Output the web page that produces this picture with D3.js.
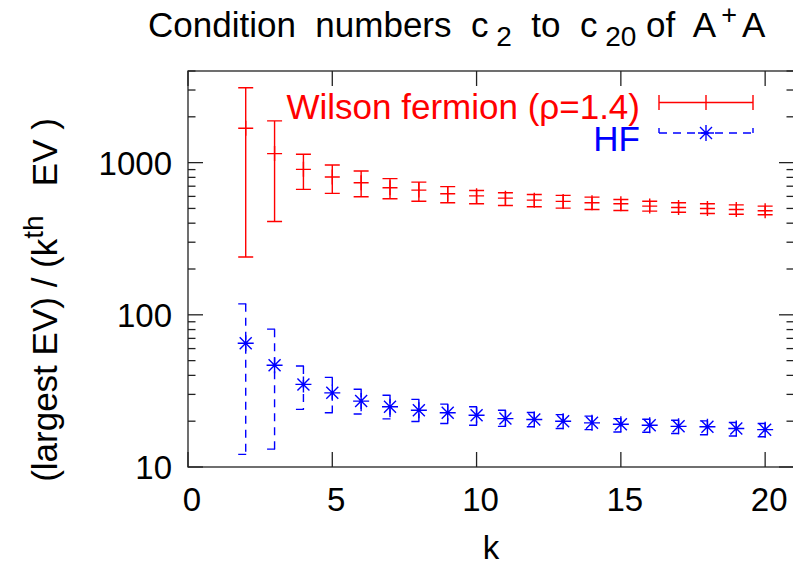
<!DOCTYPE html>
<html><head><meta charset="utf-8">
<script src="https://cdn.jsdelivr.net/npm/d3@7"></script>
<style>
body{margin:0;background:#fff;}
svg text{font-family:"Liberation Sans",Arial,sans-serif;white-space:pre;}
</style></head>
<body><svg id="c" width="793" height="570"></svg>
<script>
const ks = [2,3,4,5,6,7,8,9,10,11,12,13,14,15,16,17,18,19,20];
const wilsonVal = [1683,1146,903,804,738,684,660,625,605,584,567,556,545,537,518,507,500,492,483];
const wilsonHi  = [3103,1880,1134,964,881,785,745,695,656,634,618,609,593,573,558,545,537,528,518];
const wilsonLo  = [240,410,667,628,597,579,558,545,537,523,513,502,492,485,480,472,463,458,454];
const hfVal = [65,46.6,34.9,30.7,27.1,24.9,23.6,22.7,21.9,20.8,20.5,20.0,19.5,19.1,18.8,18.5,18.4,17.9,17.6];
const hfHi  = [118,80.5,46.1,38.8,32.4,29.6,27.8,25.9,24.9,23.6,22.8,22.1,21.6,20.8,20.6,20.3,20.1,19.6,19.3];
const hfLo  = [12.1,13.1,23.9,22.7,22.3,20.7,19.9,19.3,18.8,18.5,18.4,17.9,17.6,17.0,16.9,16.6,16.3,16.0,15.8];
const xTicks = [0,5,10,15,20];
const yTicks = [10,100,1000];
const legendLabels = ["Wilson fermion (\u03c1=1.4)","HF"];

const svg = d3.select("#c");
const L=188,R=794,T=71,B=467;
const x = d3.scaleLinear().domain([0,21]).range([L,R]);
const y = d3.scaleLog().domain([10,4000]).range([B,T]);
const FS = 33, FT = 35;
const red="#ff0000", blue="#0000ff";

// minor ticks
const minor=[];
for(let d=10; d<=1000; d*=10) for(let m=2;m<=9;m++){ if(d*m<=4000) minor.push(d*m); }
const axisG = svg.append("g").attr("stroke","#222").attr("stroke-width",1.3).attr("fill","none");
minor.forEach(v=>{
  axisG.append("line").attr("x1",L).attr("x2",L+7.5).attr("y1",y(v)).attr("y2",y(v));
  axisG.append("line").attr("x1",R).attr("x2",R-7.5).attr("y1",y(v)).attr("y2",y(v));
});
yTicks.forEach(v=>{
  axisG.append("line").attr("x1",L).attr("x2",L+15).attr("y1",y(v)).attr("y2",y(v));
  axisG.append("line").attr("x1",R).attr("x2",R-15).attr("y1",y(v)).attr("y2",y(v));
});
xTicks.forEach(v=>{
  axisG.append("line").attr("x1",x(v)).attr("x2",x(v)).attr("y1",B).attr("y2",B-15);
  axisG.append("line").attr("x1",x(v)).attr("x2",x(v)).attr("y1",T).attr("y2",T+15);
});
axisG.append("rect").attr("x",L).attr("y",T).attr("width",R-L).attr("height",B-T);

// tick labels
svg.append("g").selectAll("text").data(yTicks).join("text")
  .attr("x",L-16).attr("y",d=>y(d)+12).attr("text-anchor","end").attr("font-size",FS).text(d=>d);
svg.append("g").selectAll("text").data(xTicks).join("text")
  .attr("x",d=>x(d)+4).attr("y",511).attr("text-anchor","middle").attr("font-size",FS).text(d=>d);

// axis titles
svg.append("text").attr("x",x(10.5)).attr("y",559).attr("text-anchor","middle").attr("font-size",FS).text("k");
const yl = svg.append("text").attr("transform","translate(57,300) rotate(-90)").attr("text-anchor","middle").attr("font-size",FT);
yl.append("tspan").text("(largest EV) / (k");
yl.append("tspan").attr("dy",-14).attr("font-size",28).text("th");
yl.append("tspan").attr("dy",14).text("   EV )");

// title
const tt = svg.append("text").attr("x",148).attr("y",37).attr("font-size",FT);
tt.append("tspan").text("Condition  numbers  c");
tt.append("tspan").attr("dy",9).attr("font-size",28).text(" 2");
tt.append("tspan").attr("dy",-9).text("  to  c");
tt.append("tspan").attr("dy",9).attr("font-size",28).text(" 20");
tt.append("tspan").attr("dy",-9).text(" of  A");
tt.append("tspan").attr("dx",5).attr("dy",-13).attr("font-size",27).text("+");
tt.append("tspan").attr("dx",5).attr("dy",13).text("A");

// data arrays to records
const wil = ks.map((k,i)=>({k,v:wilsonVal[i],lo:wilsonLo[i],hi:wilsonHi[i]}));
const hf = ks.map((k,i)=>({k,v:hfVal[i],lo:hfLo[i],hi:hfHi[i]}));
const cw=7.5;

// Wilson
const gw = svg.append("g").attr("stroke",red).attr("stroke-width",1.4).attr("fill","none");
gw.selectAll("path.eb").data(wil).join("path").attr("class","eb")
  .attr("d",d=>{const X=x(d.k);return `M${X},${y(d.hi)}V${y(d.lo)}M${X-cw},${y(d.hi)}H${X+cw}M${X-cw},${y(d.lo)}H${X+cw}`;});
gw.selectAll("path.mk").data(wil).join("path").attr("class","mk")
  .attr("d",d=>{const X=x(d.k),Y=y(d.v);return `M${X-cw},${Y}H${X+cw}M${X},${Y-cw}V${Y+cw}`;});

// HF
const gh = svg.append("g").attr("stroke",blue).attr("stroke-width",1.4).attr("fill","none");
gh.selectAll("path.ebv").data(hf).join("path").attr("class","ebv").attr("stroke-dasharray","8,6")
  .attr("d",d=>{const X=x(d.k);return `M${X},${y(d.hi)}V${y(d.lo)}`;});
gh.selectAll("path.ebc").data(hf).join("path").attr("class","ebc").attr("stroke-dasharray","8,8")
  .attr("d",d=>{const X=x(d.k);return `M${X-cw},${y(d.hi)}H${X+cw}M${X-cw},${y(d.lo)}H${X+cw}`;});
const star=(X,Y)=>`M${X-8},${Y}H${X+8}M${X},${Y-8}V${Y+8}M${X-6},${Y-6}L${X+6},${Y+6}M${X-6},${Y+6}L${X+6},${Y-6}`;
gh.selectAll("path.mk").data(hf).join("path").attr("class","mk").attr("d",d=>star(x(d.k),y(d.v)));

// legend
svg.append("text").attr("x",640).attr("y",119).attr("text-anchor","end").attr("font-size",FT).attr("fill",red).text(legendLabels[0]);
svg.append("text").attr("x",640).attr("y",151).attr("text-anchor","end").attr("font-size",FT).attr("fill",blue).text(legendLabels[1]);
const lx1=659,lx2=753,lm=(lx1+lx2)/2,ly1=102.5,ly2=133;
svg.append("path").attr("stroke",red).attr("stroke-width",1.4).attr("fill","none")
  .attr("d",`M${lx1},${ly1}H${lx2}M${lx1},${ly1-cw}V${ly1+cw}M${lx2},${ly1-cw}V${ly1+cw}M${lm},${ly1-cw}V${ly1+cw}`);
svg.append("path").attr("stroke",blue).attr("stroke-width",1.4).attr("fill","none").attr("stroke-dasharray","8,6")
  .attr("d",`M${lx1},${ly2}H${lx2}`);
svg.append("path").attr("stroke",blue).attr("stroke-width",1.4).attr("fill","none")
  .attr("d",`M${lx1},${ly2-5}V${ly2}M${lx2},${ly2-5}V${ly2}`);
svg.append("path").attr("stroke",blue).attr("stroke-width",1.4).attr("fill","none").attr("d",star(lm,ly2));
</script></body></html>
